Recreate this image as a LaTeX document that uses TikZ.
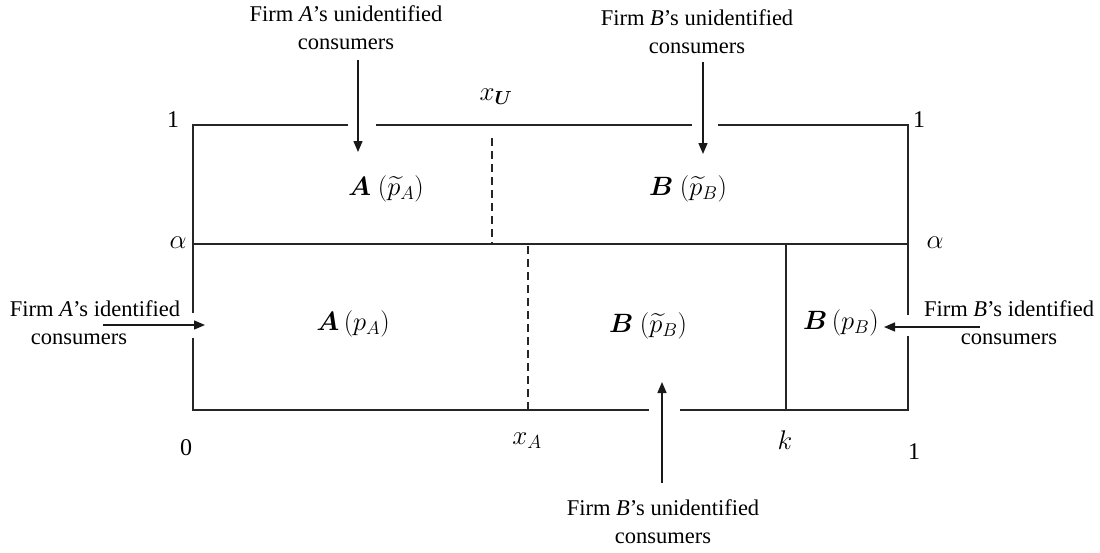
\RequirePackage{fix-cm}
\documentclass[tikz,border=0pt]{standalone}
\usepackage{fontspec}
\setmainfont{Liberation Serif}
\usepackage{amsmath}
\usepackage{bm}
\usetikzlibrary{arrows.meta}
\begin{document}
\begin{tikzpicture}[x=1pt,y=-1pt,
  frame/.style={line width=1.6pt, draw=black!85},
  alphaline/.style={line width=2.8pt, draw=black!85},
  dashline/.style={line width=1.6pt, draw=black!85, dash pattern=on 8pt off 5pt},
  kline/.style={line width=1.3pt, draw=black!85},
  arr/.style={line width=1.4pt, draw=black!90, -{Triangle[length=11pt,width=9pt]}},
  lbl/.style={font=\fontsize{22.5}{28}\selectfont, align=center, inner sep=0pt},
  axl/.style={font=\fontsize{24}{28}\selectfont, inner sep=0pt},
  mxl/.style={font=\fontsize{27}{30}\selectfont, inner sep=0pt},
  reg/.style={font=\fontsize{26.5}{30}\selectfont, inner sep=0pt}]
\useasboundingbox (0,0) rectangle (1100,552);

% frame with gaps
\draw[frame] (348,125) -- (193,125) -- (193,313);
\draw[frame] (193,338) -- (193,410) -- (649,410);
\draw[frame] (680,410) -- (908,410) -- (908,336);
\draw[frame] (908,315) -- (908,125) -- (718,125);
\draw[frame] (376,125) -- (692,125);
\draw[alphaline] (193,244) -- (908,244);
\draw[dashline] (492,138) -- (492,244);
\draw[dashline] (528,246) -- (528,410);
\draw[kline] (786,244) -- (786,410);

% axis labels
\node[axl] (one1) at (173,120) {1};
\node[axl] (one2) at (919,120) {1};
\node[mxl] (al1) at (178,243) {$\alpha$};
\node[mxl] (al2) at (935,243) {$\alpha$};
\node[axl] (zero) at (186,448) {0};
\node[mxl] (xa) at (527,441) {$x_A$};
\node[mxl] (kk) at (785,440) {$k$};
\node[axl] (one3) at (914,452) {1};
\node[mxl] (xu) at (496,97) {$x_{\bm{U}}$};

% region labels
\node[reg] (r1) at (386,189) {$\bm{A}\ (\widetilde{p}_{A})$};
\node[reg] (r2) at (688,189) {$\bm{B}\ (\widetilde{p}_{B})$};
\node[reg] (r3) at (353,324) {$\bm{A}\,(p_{A})$};
\node[reg] (r4) at (648,326) {$\bm{B}\ (\widetilde{p}_{B})$};
\node[reg] (r5) at (841,323) {$\bm{B}\,(p_{B})$};

% text labels
\node[lbl] (tA) at (346,28) {Firm \textit{A}'s unidentified\\consumers};
\node[lbl] (tB) at (697,32) {Firm \textit{B}'s unidentified\\consumers};
\node[lbl] (lA) at (95,323) {Firm \textit{A}'s identified\\consumers\hspace*{32pt}};
\node[lbl] (rB) at (1009,323) {Firm \textit{B}'s identified\\consumers};
\node[lbl] (bB) at (663,522) {Firm \textit{B}'s unidentified\\consumers};

% arrows
\coordinate (tAs) at (358,60);
\coordinate (tAe) at (358,152);
\coordinate (tBs) at (703,62);
\coordinate (tBe) at (703,154);
\coordinate (lAs) at (103,325);
\coordinate (lAe) at (205,325);
\coordinate (rBs) at (980,327);
\coordinate (rBe) at (884,327);
\coordinate (bBs) at (662,483);
\coordinate (bBe) at (662,382);
\draw[arr] (tAs) -- (tAe);
\draw[arr] (tBs) -- (tBe);
\draw[arr] (lAs) -- (lAe);
\draw[arr] (rBs) -- (rBe);
\draw[arr] (bBs) -- (bBe);
\end{tikzpicture}
\end{document}
